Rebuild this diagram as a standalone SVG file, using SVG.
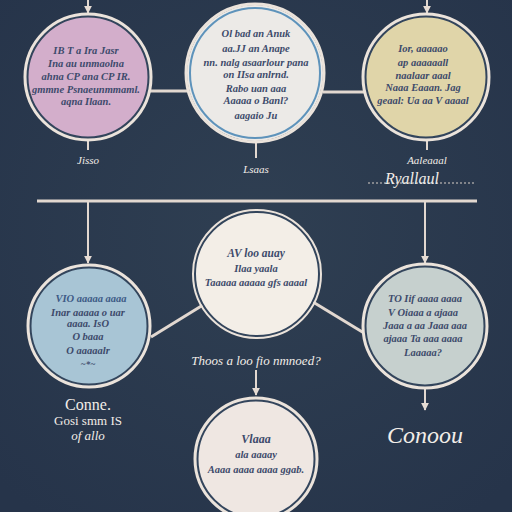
<svg xmlns="http://www.w3.org/2000/svg" width="512" height="512" viewBox="0 0 512 512">
<defs>
<radialGradient id="bg" cx="50%" cy="45%" r="70%">
<stop offset="0" stop-color="#2f3f52"/>
<stop offset="1" stop-color="#26344a"/>
</radialGradient>
<marker id="ah" viewBox="0 0 10 10" refX="9" refY="5" markerWidth="8" markerHeight="8" orient="auto" markerUnits="userSpaceOnUse">
<path d="M0,0 L10,5 L0,10 Z" fill="#e6dcd4"/>
</marker>
</defs>
<style>
.ring{fill:none;stroke:#ebe3db;stroke-width:3}
.gap{stroke:#33455c;stroke-width:3}
.ln{stroke:#e2d8d0;stroke-width:3;fill:none}
.ln2{stroke:#e2d8d0;stroke-width:2;fill:none}
.t{font-family:"Liberation Serif",serif;font-style:italic;font-weight:bold;font-size:10.5px;fill:#3d4a6b;text-anchor:middle}
.lb{font-family:"Liberation Serif",serif;font-style:italic;font-size:11px;fill:#f2ede8;text-anchor:middle}
</style>
<rect width="512" height="512" fill="url(#bg)"/>

<g id="connectors">
<line class="ln2" x1="88" y1="0" x2="88" y2="13" marker-end="url(#ah)"/>
<line class="ln2" x1="427" y1="0" x2="427" y2="13" marker-end="url(#ah)"/>
<line class="ln" x1="149" y1="91" x2="188" y2="91"/>
<line class="ln" x1="323" y1="92" x2="365" y2="92"/>
<line class="ln2" x1="88" y1="140" x2="88" y2="150"/>
<line class="ln2" x1="256" y1="143" x2="256" y2="158"/>
<line class="ln2" x1="427" y1="140" x2="427" y2="150"/>
<line x1="368" y1="183" x2="476" y2="183" stroke="#d8d0c8" stroke-width="1" stroke-dasharray="2,2"/>
<line class="ln" x1="37" y1="201" x2="477" y2="201"/>
<line class="ln2" x1="88" y1="201" x2="88" y2="263" marker-end="url(#ah)"/>
<line class="ln2" x1="425" y1="201" x2="425" y2="263" marker-end="url(#ah)"/>
<line class="ln" x1="151" y1="337" x2="203" y2="305"/>
<line class="ln" x1="313" y1="302" x2="364" y2="333"/>
<line class="ln2" x1="256" y1="370" x2="256" y2="395" marker-end="url(#ah)"/>
<line class="ln2" x1="425" y1="388" x2="425" y2="410" marker-end="url(#ah)"/>
</g>

<g id="node-top-left">
<circle cx="88" cy="77" r="61" fill="#d3aecb" class="gap"/>
<circle cx="88" cy="77" r="63" class="ring"/>
<text class="t" x="86" y="54">IB T a Ira Jasr</text>
<text class="t" x="86" y="67">Ina au unmaolna</text>
<text class="t" x="86" y="80">ahna CP ana CP IR.</text>
<text class="t" x="86" y="93">gmmne Psnaeunmmaml.</text>
<text class="t" x="86" y="105">aqna Ilaan.</text>
</g>

<g id="node-top-center">
<circle cx="255" cy="73" r="68" fill="#eceae7"/>
<circle cx="255" cy="73" r="65" fill="none" stroke="#5e93bb" stroke-width="2"/>
<circle cx="255" cy="73" r="69" class="ring"/>
<text class="t" x="256" y="37">Ol bad an Anuk</text>
<text class="t" x="256" y="52">aa.JJ an Anape</text>
<text class="t" x="256" y="66">nn. nalg asaarlour pana</text>
<text class="t" x="256" y="78">on IIsa anlrnd.</text>
<text class="t" x="256" y="92">Rabo uan aaa</text>
<text class="t" x="256" y="104">Aaaaa o Banl?</text>
<text class="t" x="256" y="119">aagaio Ju</text>
</g>

<g id="node-top-right">
<circle cx="426" cy="77" r="61" fill="#e0d5a9" class="gap"/>
<circle cx="426" cy="77" r="63" class="ring"/>
<text class="t" x="423" y="52">Ior, aaaaao</text>
<text class="t" x="423" y="66">ap aaaaaall</text>
<text class="t" x="423" y="79">naalaar aaal</text>
<text class="t" x="423" y="91">Naaa Eaaan. Jag</text>
<text class="t" x="423" y="104">geaal: Ua aa V aaaal</text>
</g>

<g id="labels-top">
<text class="lb" x="88" y="164">Jisso</text>
<text class="lb" x="256" y="173">Lsaas</text>
<text class="lb" x="427" y="164">Aaleaaal</text>
<text class="lb" x="412" y="184" style="font-size:16px">Ryallaul</text>
</g>

<g id="node-middle-center">
<circle cx="257" cy="274" r="62" fill="#f3eee7" class="gap" style="stroke-width:2"/>
<circle cx="257" cy="274" r="64" fill="none" stroke="#ebe3db" stroke-width="2"/>
<text class="t" x="256" y="257" style="font-size:11.5px">AV loo auay</text>
<text class="t" x="256" y="272">Ilaa yaala</text>
<text class="t" x="256" y="286">Taaaaa aaaaa gfs aaaal</text>
</g>

<g id="node-bottom-left">
<circle cx="89" cy="326" r="59" fill="#a8c5d5" class="gap"/>
<circle cx="89" cy="326" r="61" class="ring"/>
<text class="t" x="91" y="302" style="fill:#3d5a85">VIO aaaaa aaaa</text>
<text class="t" x="88" y="316">Inar aaaaa o uar</text>
<text class="t" x="88" y="327">aaaa. IsO</text>
<text class="t" x="88" y="340">O baaa</text>
<text class="t" x="88" y="354">O aaaaalr</text>
<text class="t" x="88" y="367" style="font-size:9px">~*~</text>
</g>

<g id="node-bottom-right">
<circle cx="425" cy="326" r="60" fill="#c6d0ce" class="gap"/>
<circle cx="425" cy="326" r="62" class="ring"/>
<text class="t" x="425" y="302">TO Iif aaaa aaaa</text>
<text class="t" x="423" y="316">V Oiaaa a ajaaa</text>
<text class="t" x="425" y="329">Jaaa a aa Jaaa aaa</text>
<text class="t" x="423" y="342">ajaaa Ta aaa aaaa</text>
<text class="t" x="423" y="356">Laaaaa?</text>
</g>

<g id="node-bottom-center">
<circle cx="256" cy="459" r="59" fill="#efe7e2" class="gap"/>
<circle cx="256" cy="459" r="61" class="ring"/>
<text class="t" x="256" y="443" style="font-size:12px">Vlaaa</text>
<text class="t" x="256" y="458">ala aaaay</text>
<text class="t" x="256" y="473">Aaaa aaaa aaaa ggab.</text>
</g>

<g id="labels-bottom">
<text class="lb" x="256" y="365" style="font-size:13px">Thoos a loo fio nmnoed?</text>
<text class="lb" x="88" y="410" style="font-size:16px;font-style:normal">Conne.</text>
<text class="lb" x="88" y="425" style="font-size:13px;font-style:normal">Gosi smm IS</text>
<text class="lb" x="88" y="440" style="font-size:13px">of allo</text>
<text class="lb" x="425" y="443" style="font-size:24px">Conoou</text>
</g>
</svg>
